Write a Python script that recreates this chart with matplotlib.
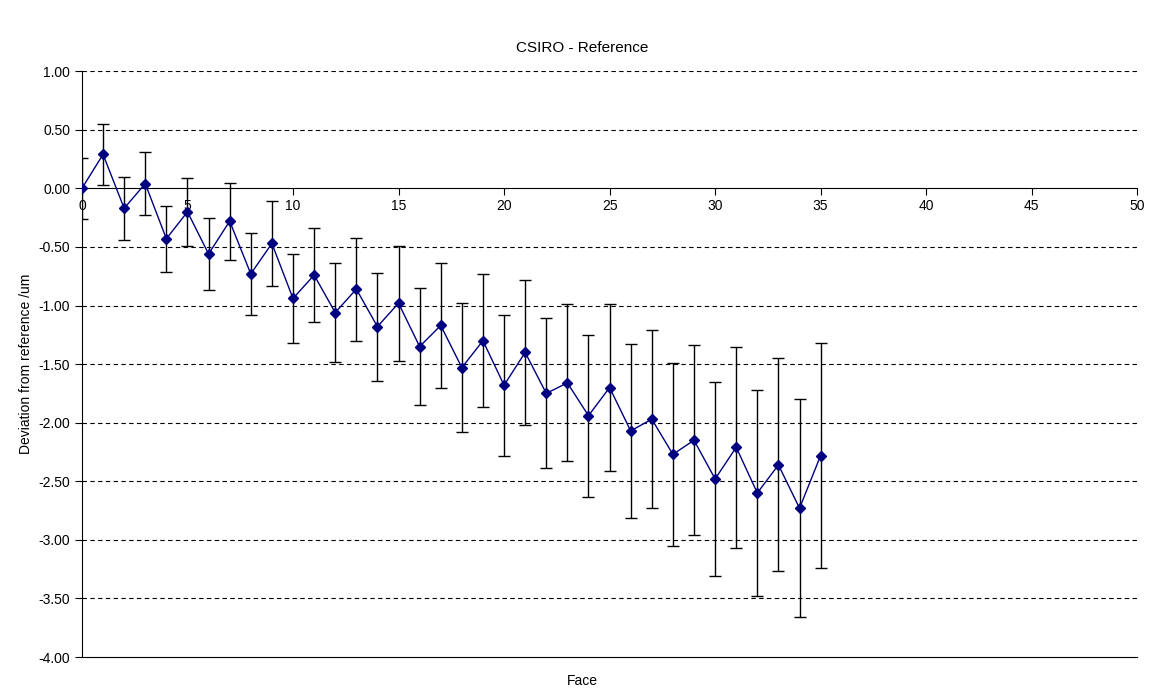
import matplotlib.pyplot as plt

plt.rcParams['font.family'] = ['Liberation Sans', 'DejaVu Sans']

faces = list(range(36))
deviation = [0.00, 0.29, -0.17, 0.04, -0.43, -0.20, -0.56, -0.28, -0.73, -0.47,
             -0.94, -0.74, -1.06, -0.86, -1.18, -0.98, -1.35, -1.17, -1.53, -1.30,
             -1.68, -1.40, -1.75, -1.66, -1.94, -1.70, -2.07, -1.97, -2.27, -2.15,
             -2.48, -2.21, -2.60, -2.36, -2.73, -2.28]
uncertainty = [0.26, 0.26, 0.27, 0.27, 0.28, 0.29, 0.31, 0.33, 0.35, 0.36,
               0.38, 0.40, 0.42, 0.44, 0.46, 0.49, 0.50, 0.53, 0.55, 0.57,
               0.60, 0.62, 0.64, 0.67, 0.69, 0.71, 0.74, 0.76, 0.78, 0.81,
               0.83, 0.86, 0.88, 0.91, 0.93, 0.96]

fig = plt.figure(figsize=(11.64, 6.98), dpi=100)
ax = fig.add_axes([0.0704, 0.0587, 0.9066, 0.8393])

for y in [-3.5, -3.0, -2.5, -2.0, -1.5, -1.0, -0.5, 0.5, 1.0]:
    ax.axhline(y, color='black', linestyle=(0, (4, 3)), linewidth=0.8, zorder=0)

ax.errorbar(faces, deviation, yerr=uncertainty, color='#000080', marker='D',
            markersize=5, linewidth=1, ecolor='black', elinewidth=1, capsize=4,
            capthick=1, zorder=3)

ax.set_xlim(0, 50)
ax.set_ylim(-4, 1)
ax.set_xticks(range(0, 51, 5))
ax.set_yticks([-4 + 0.5 * i for i in range(11)])
ax.set_yticklabels([f"{-4 + 0.5 * i:.2f}" for i in range(11)])
ax.spines['bottom'].set_position(('data', 0))
ax.spines['top'].set_visible(False)
ax.spines['right'].set_visible(False)
ax.plot([0, 50], [-4, -4], color='black', linewidth=0.8, clip_on=False)
ax.tick_params(axis='x', direction='out', length=5, pad=3, labelsize=10)
ax.tick_params(axis='y', direction='out', length=5, labelsize=10)

ax.set_ylabel("Deviation from reference /um", fontsize=10)
fig.text(0.5, 0.018, "Face", ha='center', fontsize=10)
fig.text(0.5, 0.925, "CSIRO - Reference", ha='center', fontsize=11)

fig.savefig("out.png", dpi=100)
